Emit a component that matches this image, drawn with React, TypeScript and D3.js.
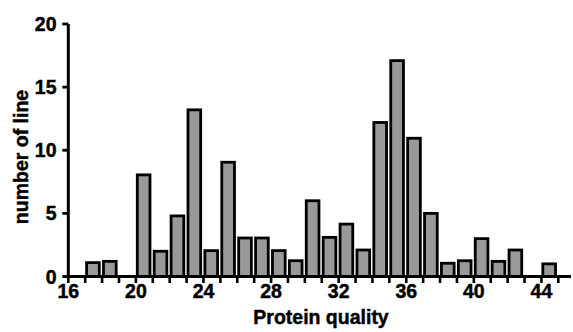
import React from "react";
import * as d3 from "d3";

const qualities = [17, 18, 20, 21, 22, 23, 24, 25, 26, 27, 28, 29, 30, 31, 32, 33, 34, 35, 36, 37, 38, 39, 40, 41, 42, 44];
const counts = [1.1, 1.2, 8.05, 2.0, 4.8, 13.2, 2.05, 9.05, 3.05, 3.05, 2.05, 1.25, 6.0, 3.1, 4.15, 2.1, 12.2, 17.1, 10.95, 5.0, 1.05, 1.25, 3.0, 1.2, 2.1, 1.0];
const xTicks = [16, 20, 24, 28, 32, 36, 40, 44];
const xMinorTicks = d3.range(16, 46);
const yTicks = [0, 5, 10, 15, 20];

const W = 573;
const H = 332;
const FONT = "'Liberation Sans', Arial, sans-serif";

export default function App() {
  const x = d3.scaleLinear().domain([16, 45.75]).range([68.3, 571]);
  const y = d3.scaleLinear().domain([0, 20]).range([276.5, 24]);
  const sw = 2.8;
  const data = qualities.map((q, i) => ({ q, v: counts[i] }));
  const textProps = {
    fontFamily: FONT,
    fontWeight: "bold" as const,
    fill: "#000",
    stroke: "#000",
    strokeWidth: 0.45,
  };

  return (
    <svg width={W} height={H} style={{ position: "absolute", left: 0, top: 0, background: "#fff" }}>
      {data.map((d) => {
        const x0 = x(d.q) + sw / 2;
        const w = x(d.q + 1) - x(d.q) - 4.2;
        return (
          <rect
            key={d.q}
            x={x0}
            y={y(d.v)}
            width={w}
            height={y(0) - y(d.v)}
            fill="#999999"
            stroke="#000"
            strokeWidth={sw}
          />
        );
      })}
      {/* y axis */}
      <line x1={x(16)} x2={x(16)} y1={y(20)} y2={y(0) + 1.5} stroke="#000" strokeWidth={3} />
      {yTicks.map((t) => (
        <g key={t}>
          <line x1={x(16) - 6} x2={x(16)} y1={y(t)} y2={y(t)} stroke="#000" strokeWidth={2.8} />
          <text x={56.5} y={y(t)} dy="0.36em" textAnchor="end" fontSize={19.5} {...textProps}>
            {t}
          </text>
        </g>
      ))}
      {/* x axis */}
      <line x1={x(16) - 1.5} x2={571} y1={y(0)} y2={y(0)} stroke="#000" strokeWidth={3.2} />
      {xMinorTicks.map((t) => (
        <line key={t} x1={x(t)} x2={x(t)} y1={y(0)} y2={y(0) + 6.5} stroke="#000" strokeWidth={2.6} />
      ))}
      {xTicks.map((t) => (
        <text key={t} x={x(t)} y={298} textAnchor="middle" fontSize={19.5} {...textProps}>
          {t}
        </text>
      ))}
      <text x={321} y={323.5} textAnchor="middle" fontSize={19.5} {...textProps}>
        Protein quality
      </text>
      <text transform={`translate(28,157) rotate(-90)`} textAnchor="middle" fontSize={19.5} {...textProps}>
        number of line
      </text>
    </svg>
  );
}
